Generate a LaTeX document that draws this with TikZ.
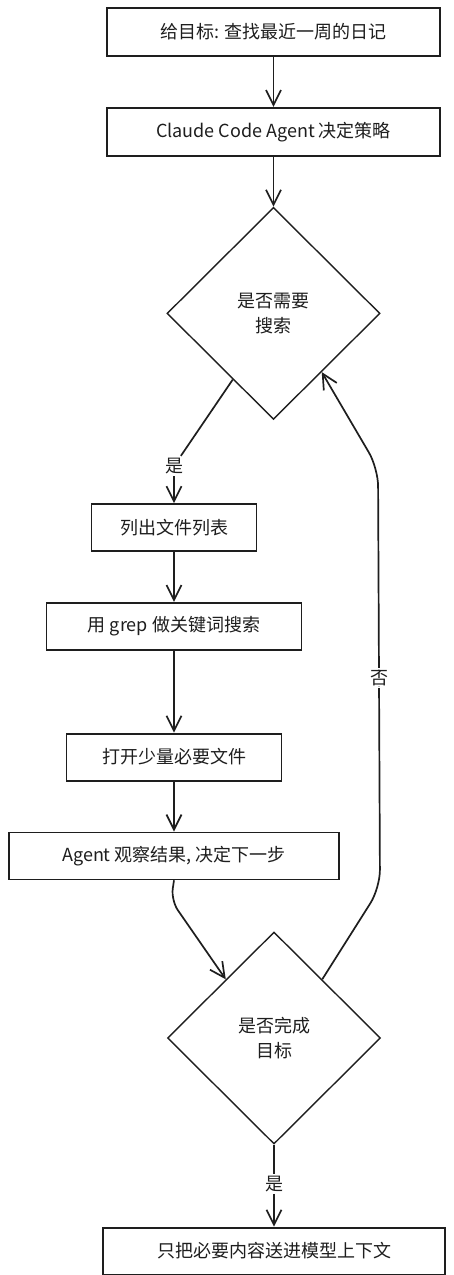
\documentclass[tikz,border=0pt]{standalone}
\usepackage{fontspec}
\setmainfont{Noto Sans CJK SC}
\usetikzlibrary{shapes.geometric, arrows.meta, positioning, calc}
\definecolor{cInk}{HTML}{1E1E1E}
\tikzset{
  box/.style={
    rectangle, draw=cInk, line width=1.8pt, fill=white,
    minimum width=#1, minimum height=47pt, inner sep=0pt,
    font=\fontsize{18}{22}\selectfont, text=cInk
  },
  decision/.style={
    diamond, draw=cInk, line width=1.4pt, fill=white,
    minimum width=213pt, minimum height=212pt, inner sep=0pt,
    align=center, font=\fontsize{18}{25}\selectfont, text=cInk
  },
  arrow/.style={-{Straight Barb[length=15pt, width=15pt]}, line width=1.7pt, cInk},
  line/.style={line width=1.7pt, cInk},
  lbl/.style={font=\fontsize{18}{22}\selectfont, text=cInk, inner sep=2pt},
}

\begin{document}
\begin{tikzpicture}[x=1pt, y=-1pt]
  \useasboundingbox (0,0) rectangle (454,1275);

  \node[box=333pt, minimum height=48pt] (goal) at (273.5,32) {给目标: 查找最近一周的日记};
  \node[box=333pt, minimum height=48pt, below=50pt of goal] (plan) {Claude Code Agent 决定策略};
  \node[decision, below=50pt of plan] (ask) {是否需要\\搜索};

  \node[box=165pt, below=83pt of ask, xshift=-99.5pt] (list) {列出文件列表};
  \node[box=255pt, below=50pt of list] (grep) {用 grep 做关键词搜索};
  \node[box=215pt, below=82pt of grep] (open) {打开少量必要文件};
  \node[box=330pt, below=50pt of open] (observe) {Agent 观察结果, 决定下一步};

  \node[decision, below=51pt of observe, xshift=100pt] (done) {是否完成\\目标};
  \node[box=342pt, below=82pt of done] (send) {只把必要内容送进模型上下文};

  % labels on the branches
  \node[lbl, above=27pt of list] (yes1) {是};
  \node[lbl, below=29pt of done] (yes2) {是};

  \draw[arrow] (goal) -- (plan);
  \draw[arrow] (plan) -- (ask);
  \draw[line] ($(ask.west)!0.62!(ask.south)$) -- (yes1);
  \draw[arrow] (yes1) -- (list);
  \draw[arrow] (list) -- (grep);
  \draw[arrow] (grep) -- (open);
  \draw[arrow] (open) -- (observe);
  \draw[arrow, rounded corners=12pt] (observe.south) -- ++(-3,20) -- ($(done.north)!0.45!(done.west)$);
  \draw[line] (done) -- (yes2);
  \draw[arrow] (yes2) -- (send);

  % loop back when not done
  \coordinate (loopbot) at (380,888);
  \coordinate (looptop) at (378,468);
  \draw[arrow, rounded corners=18pt] ($(done.north)!0.45!(done.east)$) -- (loopbot)
    -- node[lbl, fill=white] (no) {否} (looptop) -- ($(ask.east)!0.55!(ask.south)$);

\end{tikzpicture}
\end{document}
